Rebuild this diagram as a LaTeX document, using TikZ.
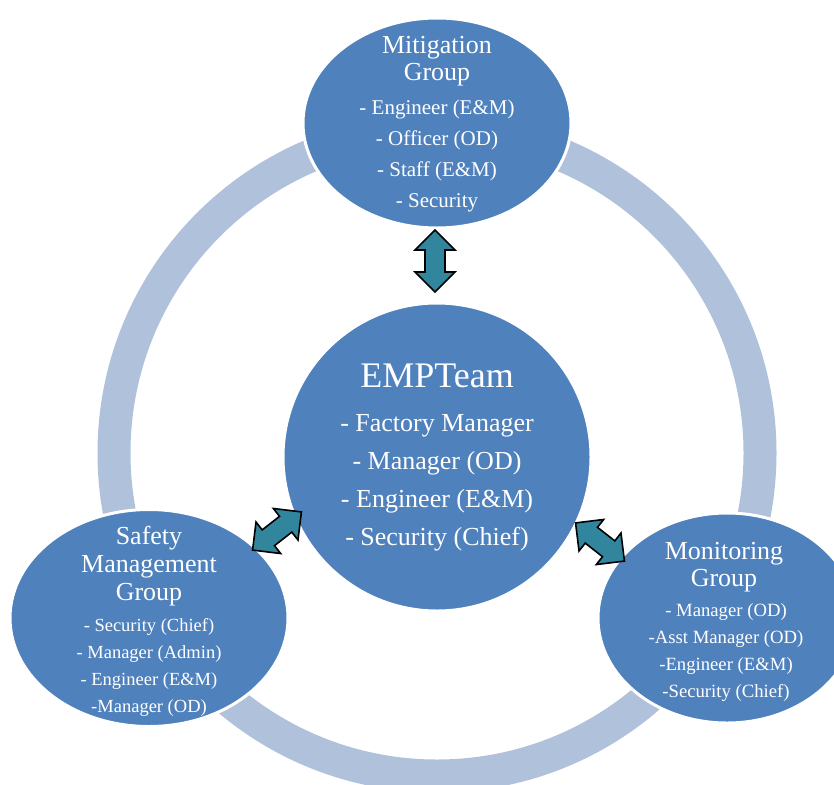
\documentclass[tikz,border=0pt]{standalone}
\usepackage{fontspec}
\setmainfont{Liberation Serif}
\usetikzlibrary{shapes.geometric}
\definecolor{ringc}{HTML}{B0C1DC}
\definecolor{blob}{HTML}{4F81BD}
\definecolor{arrc}{HTML}{31859C}
\tikzset{
  blobst/.style={ellipse, fill=blob, draw=white, line width=3pt, inner sep=0pt},
  titlest/.style={text=white, align=center, inner sep=0pt, font=\fontsize{26}{27.5}\selectfont},
  itemst/.style={text=white, align=center, inner sep=0pt},
  arrst/.style={fill=arrc, draw=black, line width=1.6pt, line join=miter},
}
\newcommand{\dblarr}[2]{%
  \begin{scope}[shift={(#1)},rotate=#2]
    \draw[arrst] (-31,0) -- (-11,-20) -- (-11,-10) -- (11,-10) -- (11,-20) -- (31,0)
      -- (11,20) -- (11,10) -- (-11,10) -- (-11,20) -- cycle;
  \end{scope}}
\begin{document}
\begin{tikzpicture}[x=1pt,y=-1pt]
\useasboundingbox (0,0) rectangle (834,784);
\clip (0,0) rectangle (834,784);
% ring
\coordinate (rc) at (437,453);
\draw[ringc, line width=33pt] (rc) circle[radius=323pt];
% ellipses
\node[blobst, minimum width=268pt, minimum height=210pt] (mit) at (437,123) {};
\node[blobst, minimum width=308pt, minimum height=308pt] (emp) at (437,457) {};
\node[blobst, minimum width=278pt, minimum height=217pt] (saf) at (149,618) {};
\node[blobst, minimum width=258pt, minimum height=210pt] (mon) at (727,618) {};
% texts
\node[titlest] (mitT) at (437,61) {Mitigation\\Group};
\node[itemst, font=\fontsize{21}{31}\selectfont] (mitL) at (437,156)
  {- Engineer (E\&M)\\- Officer (OD)\\- Staff (E\&M)\\- Security};
\node[titlest, font=\fontsize{36}{38}\selectfont] (empT) at (437,376) {EMPTeam};
\node[itemst, font=\fontsize{26}{38}\selectfont] (empL) at (437,483)
  {- Factory Manager\\- Manager (OD)\\- Engineer (E\&M)\\- Security (Chief)};
\node[titlest, font=\fontsize{26}{28}\selectfont] (safT) at (149,566) {Safety\\Management\\Group};
\node[itemst, font=\fontsize{18.5}{27}\selectfont] (safL) at (149,667)
  {- Security (Chief)\\- Manager (Admin)\\- Engineer (E\&M)\\-Manager (OD)};
\node[titlest] (monT) at (724,567) {Monitoring\\Group};
\node[itemst, font=\fontsize{18.7}{27}\selectfont] (monL) at (726,653)
  {- Manager (OD)\\-Asst Manager (OD)\\-Engineer (E\&M)\\-Security (Chief)};
% block arrows
\coordinate (a1) at (435,261);
\coordinate (a2) at (277,531);
\coordinate (a3) at (600,542);
\dblarr{a1}{90}
\dblarr{a2}{38}
\dblarr{a3}{-38}
\end{tikzpicture}
\end{document}
